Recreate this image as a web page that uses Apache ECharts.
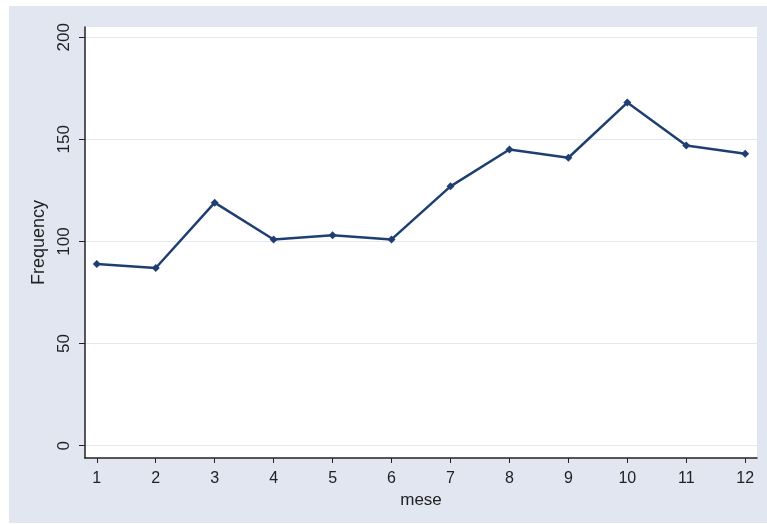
<!DOCTYPE html>
<html>
<head>
<meta charset="utf-8">
<script src="https://cdn.jsdelivr.net/npm/echarts@6/dist/echarts.min.js"></script>
<style>
html,body{margin:0;padding:0;background:#ffffff;width:767px;height:524px;overflow:hidden;}
#c{position:absolute;left:9px;top:6px;width:758px;height:517px;}
</style>
</head>
<body>
<div id="c"></div>
<script>
const months = [1,2,3,4,5,6,7,8,9,10,11,12];
const frequency = [89,87,119,101,103,101,127,145,141,168,147,143];
const yTicks = [0,50,100,150,200];
const xTicks = [1,2,3,4,5,6,7,8,9,10,11,12];

const chart = echarts.init(document.getElementById('c'));
const font = 'Liberation Sans, Arial, sans-serif';
chart.setOption({
  backgroundColor: '#e1e6f0',
  animation: false,
  grid: {left: 76, top: 21, right: 10, bottom: 65, show: true, backgroundColor: '#ffffff', borderWidth: 0},
  xAxis: {
    type: 'value', min: 0.8, max: 12.2,
    name: 'mese', nameLocation: 'middle', nameGap: 27,
    nameTextStyle: {fontFamily: font, fontSize: 17, color: '#222'},
    axisLine: {show: true, onZero: false, lineStyle: {color: '#222', width: 1.5}},
    axisTick: {show: true, length: 5, customValues: xTicks, lineStyle: {color: '#222'}},
    axisLabel: {customValues: xTicks, fontFamily: font, fontSize: 16, color: '#222', margin: 13},
    splitLine: {show: false}
  },
  yAxis: {
    type: 'value', min: -6, max: 205,
    name: 'Frequency', nameLocation: 'middle', nameGap: 35,
    nameTextStyle: {fontFamily: font, fontSize: 18, color: '#222'},
    axisLine: {show: true, onZero: false, lineStyle: {color: '#222', width: 1.5}},
    axisTick: {show: true, length: 6, customValues: yTicks, lineStyle: {color: '#222'}},
    axisLabel: {customValues: yTicks, rotate: 90, fontFamily: font, fontSize: 17, color: '#222', margin: 12},
    splitLine: {show: true, lineStyle: {color: '#e3e9f1', width: 1}}
  },
  series: [{
    type: 'line',
    data: months.map((m, i) => [m, frequency[i]]),
    symbol: 'diamond', symbolSize: 8,
    lineStyle: {color: '#1f3f73', width: 2.5},
    itemStyle: {color: '#1f3f73'}
  }]
});
</script>
</body>
</html>
